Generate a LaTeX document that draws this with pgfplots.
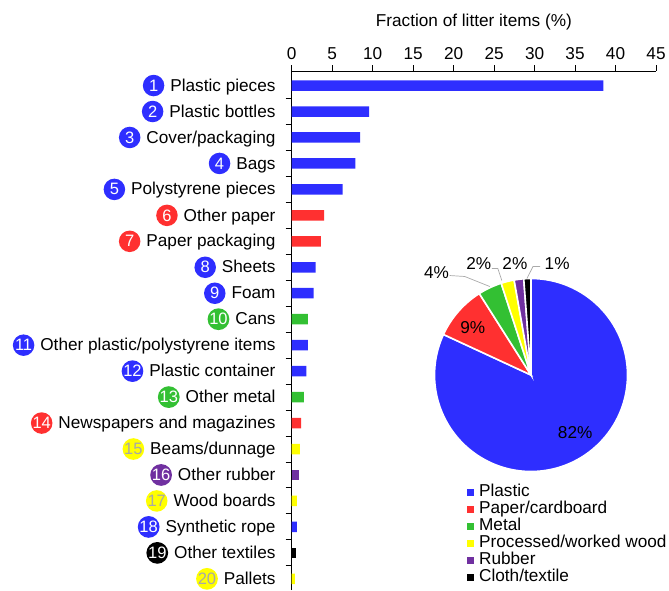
\documentclass[border=0pt]{standalone}
\usepackage{pgfplots}
\pgfplotsset{compat=1.18}
\usepackage{fontspec}
\setmainfont{Liberation Sans}
\definecolor{pblue}{HTML}{2E2EFF}
\definecolor{pred}{HTML}{FF3030}
\definecolor{pgreen}{HTML}{33C033}
\definecolor{pyellow}{HTML}{FFFF00}
\definecolor{ppurple}{HTML}{7030A0}
\definecolor{numgray}{HTML}{A8A8A8}
\definecolor{leader}{HTML}{AAAAAA}
\newcommand\fs{\fontsize{17.2}{20}\selectfont}
\newcommand{\lab}[4]{\tikz[baseline=(c.base)]\node[circle,fill=#1,text=#2,inner sep=0pt,minimum size=21.5pt,anchor=center,font=\fontsize{16.5}{16.5}\selectfont](c){#3};\hspace{6pt}#4}
% pie shares (%)
\def\vPl{81.9}\def\vPa{9.1}\def\vMe{4.0}\def\vWo{2.2}\def\vRu{1.6}\def\vCl{1.2}
\pgfmathsetmacro\aA{90}
\pgfmathsetmacro\aB{\aA-3.6*\vPl}
\pgfmathsetmacro\aC{\aB-3.6*\vPa}
\pgfmathsetmacro\aD{\aC-3.6*\vMe}
\pgfmathsetmacro\aE{\aD-3.6*\vWo}
\pgfmathsetmacro\aF{\aE-3.6*\vRu}
\pgfmathsetmacro\aG{\aF-3.6*\vCl}
\begin{document}
\begin{tikzpicture}[font=\fs]
\useasboundingbox (0,0) rectangle (669pt,-590pt);
\begin{axis}[
  at={(291.7pt,-71pt)}, anchor=north west,
  scale only axis, width=364.3pt, height=519pt,
  xmin=0, xmax=45, ymin=0.57, ymax=20.56,
  axis x line*=top, axis y line*=left,
  axis line style={line width=1pt, -},
  xtick={0,5,...,45},
  ytick={1.5,2.5,...,19.5}, yticklabels={},
  extra y ticks={20,19,18,17,16,15,14,13,12,11,10,9,8,7,6,5,4,3,2,1},
  extra y tick style={major tick length=0pt},
  extra y tick labels={
    {\lab{pblue}{white}{1}{Plastic pieces}},
    {\lab{pblue}{white}{2}{Plastic bottles}},
    {\lab{pblue}{white}{3}{Cover/packaging}},
    {\lab{pblue}{white}{4}{Bags}},
    {\lab{pblue}{white}{5}{Polystyrene pieces}},
    {\lab{pred}{white}{6}{Other paper}},
    {\lab{pred}{white}{7}{Paper packaging}},
    {\lab{pblue}{white}{8}{Sheets}},
    {\lab{pblue}{white}{9}{Foam}},
    {\lab{pgreen}{white}{10}{Cans}},
    {\lab{pblue}{white}{11}{Other plastic/polystyrene items}},
    {\lab{pblue}{white}{12}{Plastic container}},
    {\lab{pgreen}{white}{13}{Other metal}},
    {\lab{pred}{white}{14}{Newspapers and magazines}},
    {\lab{pyellow}{numgray}{15}{Beams/dunnage}},
    {\lab{ppurple}{white}{16}{Other rubber}},
    {\lab{pyellow}{numgray}{17}{Wood boards}},
    {\lab{pblue}{white}{18}{Synthetic rope}},
    {\lab{black}{white}{19}{Other textiles}},
    {\lab{pyellow}{numgray}{20}{Pallets}}},
  tick align=outside,
  major tick length=6pt,
  tick style={line width=1pt, black},
  xlabel={Fraction of litter items (\%)},
  xlabel style={font=\fs, yshift=10pt},
  xbar, bar width=10.5pt, bar shift=0pt,
  /pgf/number format/assume math mode=true,
  tick label style={font=\fs},
  xticklabel style={yshift=2pt},
  yticklabel style={inner sep=0pt, xshift=-16pt},
]
\addplot[fill=pblue, draw=none] coordinates {(38.5,20) (9.55,19) (8.45,18) (7.85,17) (6.3,16) (2.95,13) (2.7,12) (2.0,10) (1.8,9) (0.65,3)};
\addplot[fill=pred, draw=none] coordinates {(4.0,15) (3.6,14) (1.15,7)};
\addplot[fill=pgreen, draw=none] coordinates {(2.0,11) (1.5,8)};
\addplot[fill=pyellow, draw=none] coordinates {(1.0,6) (0.65,4) (0.4,1)};
\addplot[fill=ppurple, draw=none] coordinates {(0.9,5)};
\addplot[fill=black, draw=none] coordinates {(0.55,2)};
\end{axis}
\begin{axis}[
  at={(531pt,-375pt)}, anchor=center,
  scale only axis, width=193pt, height=193pt,
  xmin=-1, xmax=1, ymin=-1, ymax=1,
  hide axis, clip=false,
  legend cell align=left,
  legend style={at={(0.167,-0.066)}, anchor=north west, draw=none, fill=none,
    inner sep=0pt, outer sep=0pt, row sep=1pt, column sep=6pt,
    nodes={inner sep=0pt, text height=12.4pt, text depth=3.6pt, font=\fs}},
]
\fill[pblue, draw=white, line width=1.6pt] (axis cs:0,0) -- (axis cs:{cos(\aA)},{sin(\aA)}) arc[start angle=\aA, end angle=\aB, radius=96.5pt] -- cycle;
\fill[pred, draw=white, line width=1.6pt] (axis cs:0,0) -- (axis cs:{cos(\aB)},{sin(\aB)}) arc[start angle=\aB, end angle=\aC, radius=96.5pt] -- cycle;
\fill[pgreen, draw=white, line width=1.6pt] (axis cs:0,0) -- (axis cs:{cos(\aC)},{sin(\aC)}) arc[start angle=\aC, end angle=\aD, radius=96.5pt] -- cycle;
\fill[pyellow, draw=white, line width=1.6pt] (axis cs:0,0) -- (axis cs:{cos(\aD)},{sin(\aD)}) arc[start angle=\aD, end angle=\aE, radius=96.5pt] -- cycle;
\fill[ppurple, draw=white, line width=1.6pt] (axis cs:0,0) -- (axis cs:{cos(\aE)},{sin(\aE)}) arc[start angle=\aE, end angle=\aF, radius=96.5pt] -- cycle;
\fill[black, draw=white, line width=1.6pt] (axis cs:0,0) -- (axis cs:{cos(\aF)},{sin(\aF)}) arc[start angle=\aF, end angle=\aG, radius=96.5pt] -- cycle;
\node at (axis cs:0.458,-0.594) {82\%};
\node at (axis cs:-0.604,0.49) {9\%};
\node at (axis cs:-0.979,1.0625) {4\%};
\node at (axis cs:-0.542,1.156) {2\%};
\node at (axis cs:-0.167,1.156) {2\%};
\node at (axis cs:0.271,1.156) {1\%};
\draw[leader, line width=0.7pt] (axis cs:-0.844,1.031) -- (axis cs:-0.6875,1.021) -- (axis cs:-0.427,0.917);
\draw[leader, line width=0.7pt] (axis cs:-0.406,1.104) -- (axis cs:-0.344,1.104) -- (axis cs:-0.302,0.979);
\draw[leader, line width=0.7pt] (axis cs:0.094,1.125) -- (axis cs:0.021,1.125) -- (axis cs:-0.042,1.0);
\addlegendimage{legend image code/.code={\fill[pblue] (0pt,-3pt) rectangle (6pt,3pt);}}
\addlegendimage{legend image code/.code={\fill[pred] (0pt,-3pt) rectangle (6pt,3pt);}}
\addlegendimage{legend image code/.code={\fill[pgreen] (0pt,-3pt) rectangle (6pt,3pt);}}
\addlegendimage{legend image code/.code={\fill[pyellow] (0pt,-3pt) rectangle (6pt,3pt);}}
\addlegendimage{legend image code/.code={\fill[ppurple] (0pt,-3pt) rectangle (6pt,3pt);}}
\addlegendimage{legend image code/.code={\fill[black] (0pt,-3pt) rectangle (6pt,3pt);}}
\legend{Plastic, Paper/cardboard, Metal, Processed/worked wood, Rubber, Cloth/textile}
\end{axis}
\end{tikzpicture}
\end{document}
